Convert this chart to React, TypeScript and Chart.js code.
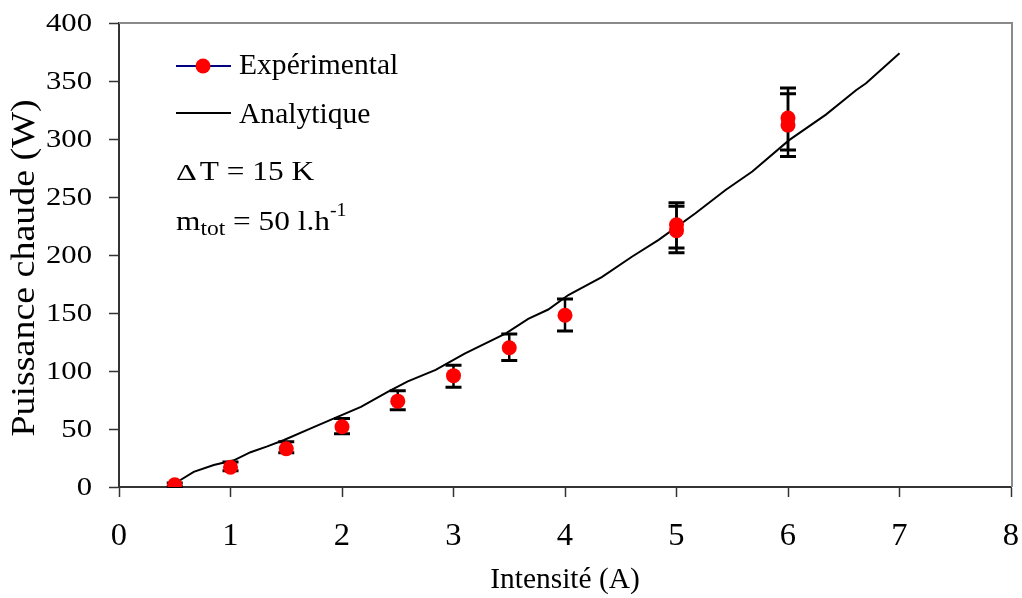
import { useEffect, useRef } from "react";
import { Chart, registerables } from "chart.js";

Chart.register(...registerables);

// Experimental measurements (intensity A, hot power W) with error bounds
const expIntensity = [0.5, 1, 1.5, 2, 2.5, 3, 3.5, 4, 5, 5, 6, 6];
const expPower = [2, 17, 33, 52, 74, 96, 120, 148, 226, 221, 318, 312];
const expErrHigh = [3.5, 21.5, 39, 59, 83, 105, 132, 162, 245, 242, 344, 339];
const expErrLow = [0.5, 14, 29.5, 46, 66.5, 86, 109, 134.5, 206, 202, 290.5, 285];

// Analytic curve
const anaIntensity = [0.5, 0.67, 0.85, 1.03, 1.18, 1.33, 1.48, 1.72, 1.96, 2.17, 2.41, 2.59, 2.84, 3.1, 3.47, 3.67, 3.85, 4.03, 4.33, 4.6, 4.84, 5.17, 5.44, 5.68, 6.01, 6.34, 6.61, 6.7, 7.0];
const anaPower = [3, 13, 19, 23, 30, 35, 40.5, 50.5, 60.5, 69, 82, 91, 101, 115, 132.5, 145, 153, 165.5, 181, 198.5, 213, 236, 256, 272, 299, 321, 342, 348, 374];

// Axis ticks
const xTicks = [0, 1, 2, 3, 4, 5, 6, 7, 8];
const yTicks = [0, 50, 100, 150, 200, 250, 300, 350, 400];

const xTitle = "Intensité (A)";
const yTitle = "Puissance chaude (W)";
const legendLabels = ["Expérimental", "Analytique"];

const FONT = '"Liberation Serif", "Times New Roman", serif';

function txt(ctx: any, text: string, x: number, y: number, size: number, sx: number, align: string, baseline: string) {
  ctx.save();
  ctx.font = `${size}px ${FONT}`;
  ctx.textAlign = align;
  ctx.textBaseline = baseline;
  const w = ctx.measureText(text).width * sx;
  ctx.translate(x, y);
  ctx.scale(sx, 1);
  ctx.fillText(text, 0, 0);
  ctx.restore();
  return w;
}

const overlay = {
  id: "overlay",
  beforeDatasetDraw(chart: any, args: any) {
    if (args.index !== 0) return;
    const ctx = chart.ctx;
    const xs = chart.scales.x;
    const ys = chart.scales.y;
    ctx.save();
    ctx.strokeStyle = "#000";
    expIntensity.forEach((xv, i) => {
      const px = xs.getPixelForValue(xv);
      const top = ys.getPixelForValue(expErrHigh[i]);
      const bot = ys.getPixelForValue(expErrLow[i]);
      ctx.lineWidth = 2.5;
      ctx.beginPath();
      ctx.moveTo(px, top);
      ctx.lineTo(px, bot);
      ctx.stroke();
      ctx.lineWidth = 3;
      ctx.beginPath();
      ctx.moveTo(px - 8, top);
      ctx.lineTo(px + 8, top);
      ctx.moveTo(px - 8, bot);
      ctx.lineTo(px + 8, bot);
      ctx.stroke();
    });
    ctx.restore();
  },
  afterDraw(chart: any) {
    const ctx = chart.ctx;
    const a = chart.chartArea;
    const xs = chart.scales.x;
    const ys = chart.scales.y;
    ctx.save();
    // top & right border
    ctx.strokeStyle = "#8a8a8a";
    ctx.lineWidth = 2;
    ctx.beginPath();
    ctx.moveTo(a.left, a.top);
    ctx.lineTo(a.right + 1, a.top);
    ctx.lineTo(a.right + 1, a.bottom);
    ctx.stroke();

    ctx.fillStyle = "#000";
    // tick labels
    xTicks.forEach((v) => txt(ctx, String(v), xs.getPixelForValue(v), 537, 31, 1.05, "center", "middle"));
    yTicks.forEach((v) => txt(ctx, String(v), 92, ys.getPixelForValue(v) + 1, 26, 1.18, "right", "middle"));

    // legend
    ctx.strokeStyle = "#000080";
    ctx.lineWidth = 2;
    ctx.beginPath();
    ctx.moveTo(176, 66);
    ctx.lineTo(231, 66);
    ctx.stroke();
    ctx.fillStyle = "#ff0000";
    ctx.beginPath();
    ctx.arc(203, 66, 7.5, 0, Math.PI * 2);
    ctx.fill();
    ctx.strokeStyle = "#000";
    ctx.beginPath();
    ctx.moveTo(176, 113);
    ctx.lineTo(231, 113);
    ctx.stroke();
    ctx.fillStyle = "#000";
    txt(ctx, legendLabels[0], 239, 74, 29, 1.02, "left", "alphabetic");
    txt(ctx, legendLabels[1], 239, 123, 29, 1.02, "left", "alphabetic");

    // Delta T
    let x = 176;
    x += txt(ctx, "Δ", x, 180, 24, 1.35, "left", "alphabetic") + 3;
    txt(ctx, "T = 15 K", x, 180, 28, 1.12, "left", "alphabetic");

    // m_tot
    x = 176;
    x += txt(ctx, "m", x, 230, 28, 1.12, "left", "alphabetic");
    x += txt(ctx, "tot", x, 235, 21, 1.12, "left", "alphabetic");
    x += txt(ctx, " = 50 l.h", x, 230, 28, 1.12, "left", "alphabetic");
    txt(ctx, "-1", x, 216, 18, 1.1, "left", "alphabetic");

    // axis titles
    txt(ctx, xTitle, 565, 580, 30, 0.98, "center", "middle");
    ctx.save();
    ctx.translate(25, 268);
    ctx.rotate(-Math.PI / 2);
    txt(ctx, yTitle, 0, 0, 33, 1.15, "center", "middle");
    ctx.restore();
    ctx.restore();
  },
};

export default function App() {
  const ref = useRef<HTMLCanvasElement | null>(null);
  useEffect(() => {
    document.body.style.margin = "0";
    const canvas = ref.current!;
    const chart = new Chart(canvas, {
      type: "scatter",
      data: {
        datasets: [
          {
            label: legendLabels[0],
            data: expIntensity.map((x, i) => ({ x, y: expPower[i] })),
            backgroundColor: "#ff0000",
            borderColor: "#ff0000",
            pointRadius: 7.5,
            pointBorderWidth: 0,
            showLine: false,
          },
          {
            label: legendLabels[1],
            data: anaIntensity.map((x, i) => ({ x, y: anaPower[i] })),
            borderColor: "#000",
            backgroundColor: "#000",
            borderWidth: 2,
            pointRadius: 0,
            showLine: true,
            tension: 0,
          },
        ],
      },
      options: {
        animation: false,
        responsive: false,
        devicePixelRatio: 1,
        layout: { padding: { top: 23, right: 11, left: 0, bottom: 0 } },
        plugins: { legend: { display: false }, tooltip: { enabled: false } },
        scales: {
          x: {
            type: "linear",
            min: 0,
            max: 8,
            afterFit: (s: any) => {
              s.height = 111;
            },
            afterBuildTicks: (s: any) => {
              s.ticks = xTicks.map((value) => ({ value }));
            },
            ticks: { color: "rgba(0,0,0,0)", font: { family: FONT, size: 1 }, padding: 0 },
            grid: { drawOnChartArea: false, drawTicks: true, tickLength: 10, tickColor: "#333", tickWidth: 1.5 },
            border: { display: true, color: "#333", width: 2 },
          },
          y: {
            type: "linear",
            min: 0,
            max: 400,
            afterFit: (s: any) => {
              s.width = 119;
            },
            afterBuildTicks: (s: any) => {
              s.ticks = yTicks.map((value) => ({ value }));
            },
            ticks: { color: "rgba(0,0,0,0)", font: { family: FONT, size: 1 }, padding: 0 },
            grid: { drawOnChartArea: false, drawTicks: true, tickLength: 10, tickColor: "#333", tickWidth: 1.5 },
            border: { display: true, color: "#333", width: 2 },
          },
        },
      },
      plugins: [overlay],
    });
    return () => chart.destroy();
  }, []);
  return (
    <div style={{ position: "relative", width: 1022, height: 598 }}>
      <canvas ref={ref} width={1022} height={598} />
    </div>
  );
}
